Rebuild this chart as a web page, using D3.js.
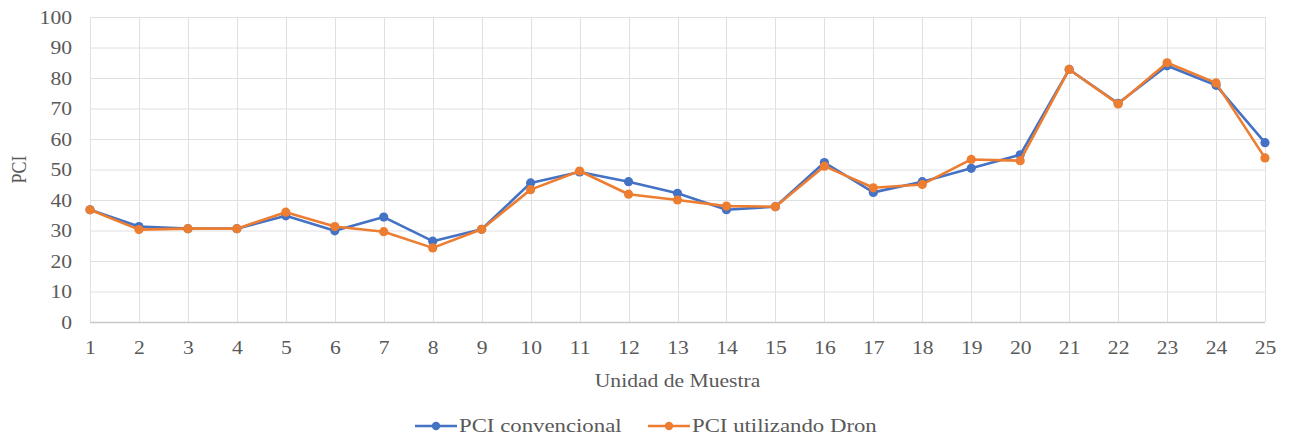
<!DOCTYPE html>
<html>
<head>
<meta charset="utf-8">
<script src="https://cdn.jsdelivr.net/npm/d3@7/dist/d3.min.js"></script>
<style>
  html, body { margin: 0; padding: 0; background: #fff; }
  svg { display: block; }
  text { font-family: "Liberation Serif", "Times New Roman", serif; fill: #595959; }
</style>
</head>
<body>
<svg id="chart" width="1290" height="446"></svg>
<script>
// Sample units 1..25
const categories = d3.range(1, 26).map(String);

// PCI values per sample unit
const pciConvencional = [36.8, 31.3, 30.6, 30.6, 34.8, 29.9, 34.4, 26.5, 30.4, 45.6,
                         49.2, 46.0, 42.2, 36.8, 37.8, 52.3, 42.5, 46.0, 50.4, 54.8,
                         82.8, 71.7, 84.0, 77.6, 58.8];
const pciDron       = [36.8, 30.3, 30.6, 30.6, 36.0, 31.3, 29.6, 24.3, 30.4, 43.4,
                         49.5, 41.9, 40.0, 38.0, 37.8, 51.1, 44.0, 45.1, 53.3, 52.9,
                         82.8, 71.5, 85.0, 78.4, 53.8];

const yTicks = d3.range(0, 101, 10);
const seriesNames = ["PCI convencional", "PCI utilizando Dron"];
const seriesColors = ["#4472C4", "#ED7D31"];

const series = [
  { name: seriesNames[0], color: seriesColors[0], values: pciConvencional },
  { name: seriesNames[1], color: seriesColors[1], values: pciDron }
];

const svg = d3.select("#chart");
const plot = { left: 90, right: 1265, top: 17, bottom: 322 };
const sx = 1.2; // horizontal text stretch

const x = d3.scalePoint().domain(categories).range([plot.left, plot.right]);
const y = d3.scaleLinear().domain([0, 100]).range([plot.bottom, plot.top]);

// Grid
const grid = svg.append("g");
grid.selectAll("line.h").data(yTicks).join("line")
  .attr("x1", plot.left).attr("x2", plot.right)
  .attr("y1", d => y(d) + 0.5).attr("y2", d => y(d) + 0.5)
  .attr("stroke", d => d === 0 ? "#c8c8c8" : "#e0e0e0")
  .attr("stroke-width", d => d === 0 ? 1.5 : 1);
grid.selectAll("line.v").data(categories).join("line")
  .attr("x1", d => Math.round(x(d)) + 0.5).attr("x2", d => Math.round(x(d)) + 0.5)
  .attr("y1", plot.top).attr("y2", plot.bottom)
  .attr("stroke", "#e0e0e0").attr("stroke-width", 1);

// Y axis labels
const yAxis = svg.append("g")
  .attr("transform", `translate(${plot.left},0)`)
  .call(d3.axisLeft(y).tickValues(yTicks).tickSize(0).tickPadding(0));
yAxis.select(".domain").remove();
yAxis.selectAll("text")
  .attr("x", 0).attr("dy", "0.34em")
  .attr("transform", `translate(-18,0) scale(${sx},1)`)
  .style("font-size", "18px")
  .style("font-family", "Liberation Serif");

// X axis labels
const xAxis = svg.append("g")
  .attr("transform", `translate(0,${plot.bottom})`)
  .call(d3.axisBottom(x).tickSize(0).tickPadding(0));
xAxis.select(".domain").remove();
xAxis.selectAll("text")
  .attr("y", 0).attr("dy", 0)
  .attr("transform", `translate(0,32) scale(${sx},1)`)
  .style("font-size", "18px")
  .style("font-family", "Liberation Serif");

// Axis titles
svg.append("text")
  .attr("transform", `translate(${(plot.left + plot.right) / 2},387) scale(${sx},1)`)
  .attr("text-anchor", "middle")
  .style("font-size", "18px")
  .text("Unidad de Muestra");

svg.append("text")
  .attr("transform", `translate(26,${(plot.top + plot.bottom) / 2}) rotate(-90) scale(1,${sx})`)
  .attr("text-anchor", "middle")
  .style("font-size", "18px")
  .text("PCI");

// Series lines and markers
const line = d3.line().x((d, i) => x(categories[i])).y(d => y(d));
series.forEach(s => {
  const g = svg.append("g");
  g.append("path")
    .datum(s.values)
    .attr("d", line)
    .attr("fill", "none")
    .attr("stroke", s.color)
    .attr("stroke-width", 2.6)
    .attr("stroke-linejoin", "round");
  g.selectAll("circle").data(s.values).join("circle")
    .attr("cx", (d, i) => x(categories[i]))
    .attr("cy", d => y(d))
    .attr("r", 4.6)
    .attr("fill", s.color);
});

// Legend
const legendItems = [
  { name: seriesNames[0], color: seriesColors[0], x0: 415 },
  { name: seriesNames[1], color: seriesColors[1], x0: 648 }
];
const legend = svg.append("g").attr("transform", "translate(0,426)");
legendItems.forEach(it => {
  const g = legend.append("g").attr("transform", `translate(${it.x0},0)`);
  g.append("line").attr("x1", 0).attr("x2", 42).attr("y1", 0).attr("y2", 0)
    .attr("stroke", it.color).attr("stroke-width", 2.6);
  g.append("circle").attr("cx", 21).attr("cy", 0).attr("r", 4.2).attr("fill", it.color);
  g.append("text")
    .attr("transform", `translate(44,6) scale(${sx},1)`)
    .style("font-size", "19px")
    .text(it.name);
});
</script>
</body>
</html>
